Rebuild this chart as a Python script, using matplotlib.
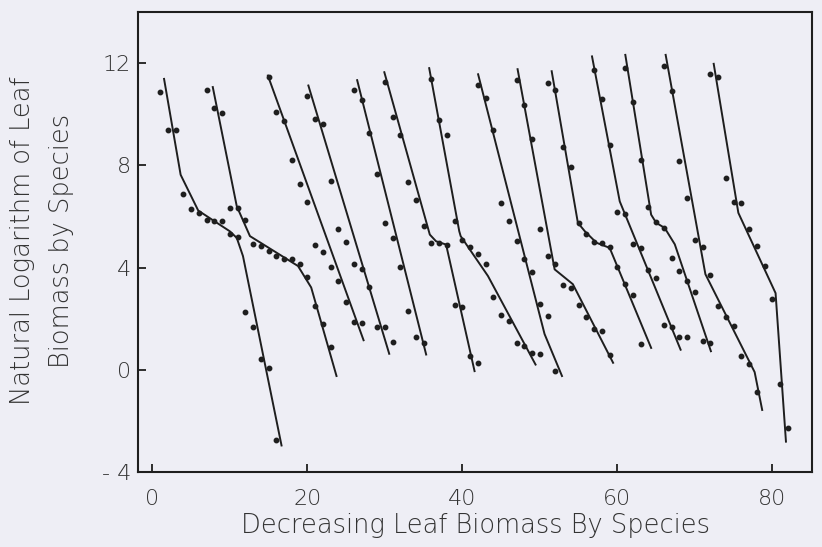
import matplotlib
matplotlib.use("Agg")
import matplotlib.pyplot as plt

# Species ranks (x) and log leaf biomass (y) for each stand, plus the
# piecewise-linear fit drawn through each stand's points.
s1_x = list(range(1, 17))
s1_y = [10.87, 9.40, 9.38, 6.89, 6.31, 6.14, 5.85, 5.84, 5.81, 5.33, 5.19, 2.28, 1.66, 0.43, 0.08, -2.75]
s1_fx = [1.5, 3.66, 5.93, 10.0, 10.9, 11.7, 16.7]
s1_fy = [11.42, 7.63, 6.23, 5.42, 5.16, 4.45, -3.0]

s2_x = list(range(7, 24))
s2_y = [10.96, 10.25, 10.05, 6.33, 6.33, 5.88, 4.91, 4.84, 4.65, 4.45, 4.35, 4.32, 4.13, 3.65, 2.48, 1.79, 0.88]
s2_fx = [7.78, 10.9, 12.6, 18.8, 20.5, 23.8]
s2_fy = [11.1, 6.4, 5.23, 4.06, 3.22, -0.28]

s3_x = list(range(15, 28))
s3_y = [11.44, 10.09, 9.73, 8.21, 7.26, 6.55, 4.90, 4.60, 4.02, 3.48, 2.67, 1.88, 1.82]
s3_fx = [14.87, 27.3]
s3_fy = [11.55, 1.12]

s4_x = list(range(20, 32))
s4_y = [10.7, 9.8, 9.6, 7.4, 5.5, 5.0, 4.13, 3.93, 3.22, 1.69, 1.66, 1.1]
s4_fx = [20.1, 30.6]
s4_fy = [11.16, 0.59]

s5_x = list(range(26, 36))
s5_y = [10.94, 10.57, 9.28, 7.65, 5.75, 5.14, 4.03, 2.31, 1.30, 1.05]
s5_fx = [26.4, 35.36]
s5_fy = [11.37, 0.56]

s6_x = list(range(30, 43))
s6_y = [11.26, 9.9, 9.19, 7.33, 6.66, 5.62, 4.97, 4.95, 4.88, 2.53, 2.44, 0.52, 0.28]
s6_fx = [29.9, 35.8, 36.6, 37.9, 41.6]
s6_fy = [11.68, 5.29, 5.03, 4.9, -0.09]

s7_x = list(range(36, 51))
s7_y = [11.37, 9.77, 9.19, 5.81, 5.06, 4.81, 4.54, 4.15, 2.83, 2.14, 1.92, 1.04, 0.95, 0.65, 0.6]
s7_fx = [35.7, 39.6, 39.78, 43.3, 49.5]
s7_fy = [11.84, 5.42, 5.23, 3.67, 0.17]

s8_x = list(range(42, 53))
s8_y = [11.16, 10.64, 9.4, 6.53, 5.81, 5.03, 4.32, 3.84, 2.57, 2.12, -0.05]
s8_fx = [42.0, 50.6, 52.9]
s8_fy = [11.6, 1.4, -0.28]

s9_x = list(range(47, 60))
s9_y = [11.33, 10.38, 9.05, 5.51, 4.45, 4.15, 3.31, 3.19, 2.53, 2.08, 1.6, 1.51, 0.56]
s9_fx = [47.1, 51.9, 54.25, 59.5]
s9_fy = [11.8, 3.93, 3.35, 0.24]

s10_x = list(range(51, 64))
s10_y = [11.22, 10.96, 8.73, 7.93, 5.75, 5.32, 5.01, 4.95, 4.8, 4.03, 3.37, 2.92, 1.01]
s10_fx = [51.5, 54.9, 55.8, 57.3, 59.0, 64.4]
s10_fy = [11.72, 5.75, 5.42, 4.97, 4.77, 0.82]

s11_x = list(range(57, 70))
s11_y = [11.74, 10.59, 8.8, 6.18, 6.1, 4.93, 4.77, 3.89, 3.58, 1.77, 1.69, 1.3, 1.3]
s11_fx = [56.7, 60.3, 68.2]
s11_fy = [12.3, 6.59, 0.75]

s12_x = list(range(61, 73))
s12_y = [11.82, 10.46, 8.21, 6.36, 5.77, 5.53, 4.38, 3.86, 3.48, 3.05, 1.12, 1.05]
s12_fx = [61.0, 64.35, 65.0, 66.1, 67.4, 72.1]
s12_fy = [12.36, 6.07, 5.75, 5.55, 4.91, 0.69]

s13_x = list(range(66, 79))
s13_y = [11.87, 10.91, 8.17, 6.72, 5.07, 4.81, 3.71, 2.51, 2.05, 1.7, 0.53, 0.21, -0.87]
s13_fx = [66.2, 71.35, 77.7, 78.7]
s13_fy = [12.36, 3.74, -0.09, -1.61]

s14_x = list(range(72, 83))
s14_y = [11.58, 11.46, 7.5, 6.55, 6.53, 5.49, 4.84, 4.06, 2.77, -0.57, -2.27]
s14_fx = [72.4, 75.6, 80.4, 81.75]
s14_fy = [12.01, 6.14, 3.0, -2.85]

stands = [
    (s1_x, s1_y, s1_fx, s1_fy), (s2_x, s2_y, s2_fx, s2_fy),
    (s3_x, s3_y, s3_fx, s3_fy), (s4_x, s4_y, s4_fx, s4_fy),
    (s5_x, s5_y, s5_fx, s5_fy), (s6_x, s6_y, s6_fx, s6_fy),
    (s7_x, s7_y, s7_fx, s7_fy), (s8_x, s8_y, s8_fx, s8_fy),
    (s9_x, s9_y, s9_fx, s9_fy), (s10_x, s10_y, s10_fx, s10_fy),
    (s11_x, s11_y, s11_fx, s11_fy), (s12_x, s12_y, s12_fx, s12_fy),
    (s13_x, s13_y, s13_fx, s13_fy), (s14_x, s14_y, s14_fx, s14_fy),
]

x_ticks = [0, 20, 40, 60, 80]
y_ticks = [-4, 0, 4, 8, 12]

bg = "#eeeef5"
ink = "#1e1e1e"
text_col = "#333333"

plt.rcParams["font.family"] = ["DejaVu Sans"]

fig = plt.figure(figsize=(8.22, 5.47), dpi=100, facecolor=bg)
ax = fig.add_axes([138 / 822, 75 / 547, 674 / 822, 460 / 547], facecolor=bg)

for xs, ys, fx, fy in stands:
    ax.plot(fx, fy, color=ink, lw=1.4, solid_capstyle="butt", zorder=2)
    ax.plot(xs, ys, ls="none", marker="o", ms=3.2, color=ink, mec=ink, zorder=3)

ax.set_xlim(-1.84, 85.1)
ax.set_ylim(-4, 14)
ax.set_xticks(x_ticks)
ax.set_yticks(y_ticks)
ax.set_yticklabels([f"{v}" if v >= 0 else f"- {abs(v)}" for v in y_ticks])

ax.tick_params(direction="in", length=6, width=1.3, colors=ink,
               labelcolor=text_col, labelsize=16)
ax.tick_params(axis="x", pad=12)
ax.tick_params(axis="y", pad=5)
for t in ax.get_xticklabels() + ax.get_yticklabels():
    t.set_fontweight("light")

for sp in ax.spines.values():
    sp.set_linewidth(1.5)
    sp.set_color(ink)

ax.set_xlabel("Decreasing Leaf Biomass By Species", fontsize=18.5,
              color=text_col, fontweight="light", labelpad=3)
fig.text(23 / 822, 1 - 241 / 547, "Natural Logarithm of Leaf", rotation=90,
         ha="center", va="center", fontsize=18.5, color=text_col, fontweight="light")
fig.text(61 / 822, 1 - 241 / 547, "Biomass by Species", rotation=90,
         ha="center", va="center", fontsize=18.5, color=text_col, fontweight="light")

fig.savefig("out.png", dpi=100, facecolor=bg)
